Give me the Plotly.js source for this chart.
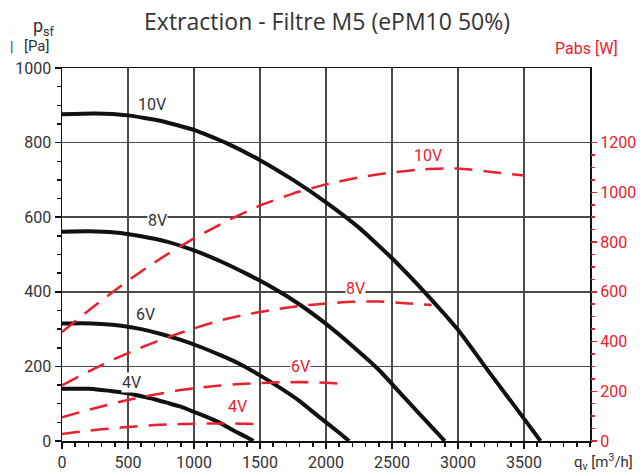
<!DOCTYPE html>
<html>
<head>
<meta charset="utf-8">
<script src="https://cdn.plot.ly/plotly-3.0.1.min.js"></script>
<style>html,body{margin:0;padding:0;background:#fff;}#chart{width:640px;height:472px;}</style>
</head>
<body>
<div id="chart"></div>
<script>
// Pressure curves p_sf [Pa] vs flow q_v [m3/h]
const q10 = [0,250,500,750,1000,1250,1500,1750,2000,2250,2500,2750,3000,3250,3500,3625];
const p10 = [876,878,873,858,834,798,753,700,640,572,490,398,298,178,60,0];
const q8 = [0,200,400,600,800,1000,1200,1400,1600,1800,2000,2200,2400,2600,2800,2900];
const p8 = [561,562,559,549,534,511,482,448,410,366,314,255,191,114,38,0];
const q6 = [0,150,300,450,600,750,900,1050,1200,1350,1500,1650,1800,1950,2100,2175];
const p6 = [315,316,314,309,300,287,271,252,230,206,176,143,107,64,22,0];
const q4 = [0,100,200,300,400,500,600,700,800,900,1000,1100,1200,1300,1400,1450];
const p4 = [140,140,140,137,133,128,120,112,102,92,78,64,48,28,10,0];

// Absorbed power Pabs [W] vs flow
const qw10 = [0,250,500,750,1000,1250,1500,1750,2000,2250,2500,2750,3000,3250,3500];
const w10 = [438,545,645,735,815,885,947,995,1032,1060,1080,1093,1096,1082,1068];
const qw8 = [0,200,400,600,800,1000,1200,1400,1600,1800,2000,2200,2400,2600,2800];
const w8 = [224,279,330,376,417,453,485,509,528,543,553,560,561,554,547];
const qw6 = [0,150,300,450,600,750,900,1050,1200,1350,1500,1650,1800,1950,2100];
const w6 = [95,118,139,159,176,191,205,215,223,229,233,236,237,235,231];
const qw4 = [0,100,200,300,400,500,600,700,800,900,1000,1100,1200,1300,1400,1500];
const w4 = [28,35,41,47,52,56,61,64,66,68,69,70,70,70,69,68];

const xTicks = [0,500,1000,1500,2000,2500,3000,3500];
const yTicks = [0,200,400,600,800,1000];
const y2Ticks = [0,200,400,600,800,1000,1200];
const y2Minor = [0,50,100,150,200,250,300,350,400,450,500,550,600,650,700,750,800,850,900,950,1000,1050,1100,1150,1200];

// Curve labels: [text, x, y]
const blackLabels = [["10V",682,903],["8V",720,592],["6V",636,338],["4V",530,158]];
const redLabels = [["10V",2773,1148],["8V",2227,612],["6V",1803,298],["4V",1333,137]];

const RED = "#e8212e";
const TXT = "#333333";
const FONT = "Roboto, 'DejaVu Sans Condensed', sans-serif";
const TFONT = "'Open Sans', Roboto, sans-serif";

const traces = [];
[[q10,p10],[q8,p8],[q6,p6],[q4,p4]].forEach(([x,y]) => traces.push({
  x, y, type:"scatter", mode:"lines", line:{color:"#111", width:4, shape:"spline", smoothing:0.4},
  hoverinfo:"skip", showlegend:false
}));
[[qw10,w10],[qw8,w8],[qw6,w6],[qw4,w4]].forEach(([x,y]) => traces.push({
  x, y, yaxis:"y2", type:"scatter", mode:"lines",
  line:{color:RED, width:2.5, dash:"18px,11px", shape:"spline", smoothing:0.5},
  hoverinfo:"skip", showlegend:false
}));

const annotations = [];
blackLabels.forEach(([t,x,y]) => annotations.push({
  text:t, x, y, xref:"x", yref:"y", showarrow:false, bgcolor:"#fff", borderpad:0,
  xanchor:"center", yanchor:"middle",
  font:{family:FONT, size:16, color:TXT}
}));
redLabels.forEach(([t,x,y]) => annotations.push({
  text:t, x, y, xref:"x", yref:"y2", showarrow:false, bgcolor:"#fff", borderpad:0,
  xanchor:"center", yanchor:"middle",
  font:{family:FONT, size:16, color:RED}
}));
const pa = (text, x, y, size, color) => ({text, xref:"paper", yref:"paper", x, y, showarrow:false,
  xanchor:"center", yanchor:"middle", font:{family:FONT, size, color}});
annotations.push(
  pa("p<sub>sf</sub>", -0.034, 1.11, 18, TXT),
  pa("[Pa]", -0.047, 1.058, 15, TXT),
  pa("|", -0.095, 1.055, 14, TXT),
  pa(":", -0.093, 1.097, 7, "#999"),
  pa("Pabs [W]", 0.994, 1.052, 16, RED),
  pa("q<sub>v</sub> [m<sup>3</sup>/h]", 1.025, -0.056, 15, TXT)
);

const layout = {
  width:640, height:472,
  margin:{l:62, r:50, t:68, b:31},
  paper_bgcolor:"#fff", plot_bgcolor:"#fff",
  title:{text:"Extraction - Filtre M5 (ePM10 50%)", x:0.511, xanchor:"center", y:0.953, yanchor:"middle",
         font:{family:TFONT, size:23, color:TXT}},
  xaxis:{range:[0,4000], tickvals:xTicks, showgrid:true, gridcolor:"#4a4a4a", gridwidth:1.5,
         showline:true, linecolor:"#111", linewidth:1.5, mirror:true, zeroline:false,
         ticks:"outside", ticklen:6, tickcolor:"#111", tickwidth:1.5,
         minor:{dtick:100, ticks:"outside", ticklen:4, tickcolor:"#111", showgrid:false},
         tickfont:{family:FONT, size:16, color:TXT}},
  yaxis:{range:[0,1000], tickvals:yTicks, showgrid:true, gridcolor:"#4a4a4a", gridwidth:1.5,
         showline:true, linecolor:"#111", linewidth:1.5, mirror:true, zeroline:false,
         ticks:"outside", ticklen:6, tickcolor:"#111", tickwidth:1.5,
         minor:{dtick:50, ticks:"outside", ticklen:4, tickcolor:"#111", showgrid:false},
         tickfont:{family:FONT, size:16, color:TXT}},
  yaxis2:{range:[0,1500], overlaying:"y", side:"right", tickvals:y2Ticks, showgrid:false, zeroline:false,
         showline:false, ticks:"outside", ticklen:6, tickcolor:RED, tickwidth:1.5,
         minor:{tickvals:y2Minor, ticks:"outside", ticklen:4, tickcolor:RED, showgrid:false},
         tickfont:{family:FONT, size:16, color:RED}},
  annotations
};

Plotly.newPlot("chart", traces, layout, {displayModeBar:false, staticPlot:true});
</script>
</body>
</html>
